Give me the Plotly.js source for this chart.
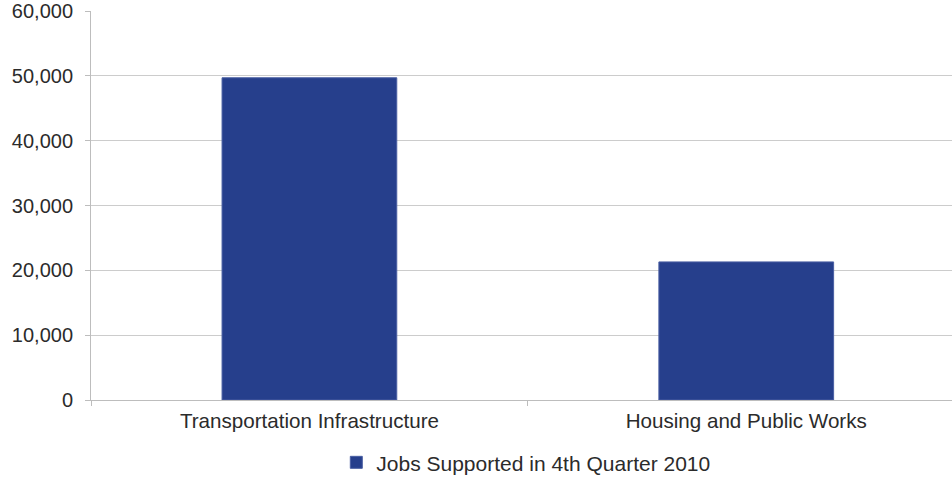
<!DOCTYPE html>
<html>
<head>
<meta charset="utf-8">
<script src="https://cdn.plot.ly/plotly-3.0.1.min.js"></script>
<style>html,body{margin:0;padding:0;background:#fff;}#chart{width:952px;height:477px;}</style>
</head>
<body>
<div id="chart"></div>
<script>
const categories = ["Transportation Infrastructure", "Housing and Public Works"];
const jobs = [49700, 21300];
const seriesName = "Jobs Supported in 4th Quarter 2010";
const yTicks = [0, 10000, 20000, 30000, 40000, 50000, 60000];

const font = {family: "Liberation Sans, Arial, sans-serif", size: 21, color: "#2b2b2b"};
const xFont = {family: "Liberation Sans, Arial, sans-serif", size: 20.6, color: "#2b2b2b"};
const yFont = {family: "Liberation Sans, Arial, sans-serif", size: 20, color: "#2b2b2b"};

Plotly.newPlot("chart", [{
  type: "bar",
  x: categories,
  y: jobs,
  name: seriesName,
  showlegend: true,
  marker: {color: "#263f8c", line: {color: "#4a5fa3", width: 1}},
  hoverinfo: "x+y"
}], {
  width: 952, height: 477,
  margin: {l: 91, r: 0, t: 11, b: 77, autoexpand: false},
  paper_bgcolor: "#fff", plot_bgcolor: "#fff",
  font: font,
  bargap: 0.6,
  xaxis: {
    type: "category",
    range: [-0.5, 1.471],
    showline: true, linecolor: "#bdbdbd", linewidth: 1,
    ticks: "outside", tickson: "boundaries", ticklen: 5, tickcolor: "#bdbdbd",
    showgrid: false, zeroline: false,
    automargin: false,
    ticklabelstandoff: 2,
    tickfont: xFont
  },
  yaxis: {
    range: [0, 60000],
    tickvals: yTicks,
    tickformat: ",d",
    showline: true, linecolor: "#bdbdbd", linewidth: 1,
    ticks: "outside", ticklen: 5, tickcolor: "#bdbdbd",
    ticklabelstandoff: 8,
    ticklabeloverflow: "allow",
    showgrid: true, gridcolor: "#cccccc", gridwidth: 1,
    zeroline: false,
    automargin: false,
    tickfont: yFont
  },
  legend: {
    orientation: "h", x: 0.505, xanchor: "center",
    yref: "container", y: 0.03, yanchor: "middle",
    font: font, itemwidth: 30
  }
}, {displayModeBar: false});
</script>
</body>
</html>
